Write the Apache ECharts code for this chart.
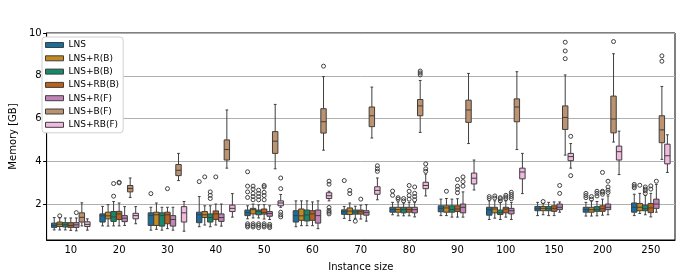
<!DOCTYPE html>
<html>
<head>
    <meta charset="utf-8">
    <script src="https://cdn.jsdelivr.net/npm/echarts@6/dist/echarts.min.js"></script>
</head>
<body style="margin:0">
<div id="main" style="width: 682px;height:277px;"></div>
<script type="text/javascript">
    // categories (instance size)
    var sizes = ['10', '20', '30', '40', '50', '60', '70', '80', '90', '100', '150', '200', '250'];
    var names = ['LNS', 'LNS+R(B)', 'LNS+B(B)', 'LNS+RB(B)', 'LNS+R(F)', 'LNS+B(F)', 'LNS+RB(F)'];
    var colors = ['#176d9c', '#c38820', '#158a6a', '#ba611b', '#c283b6', '#bd926e', '#f1b8e0'];

    // [min, q1, median, q3, max] per instance size, memory in GB
    var lns = [
        [0.79, 0.91, 1.00, 1.11, 1.37], [0.98, 1.16, 1.45, 1.54, 1.89], [0.78, 1.00, 1.46, 1.59, 1.85],
        [0.94, 1.13, 1.50, 1.62, 2.35], [1.31, 1.46, 1.60, 1.72, 1.92], [0.94, 1.16, 1.46, 1.69, 2.15],
        [1.33, 1.52, 1.64, 1.73, 1.89], [1.50, 1.62, 1.74, 1.85, 2.08], [1.46, 1.64, 1.80, 1.92, 2.23],
        [1.28, 1.48, 1.73, 1.85, 2.15], [1.46, 1.69, 1.78, 1.89, 2.08], [1.44, 1.62, 1.74, 1.85, 2.08],
        [1.46, 1.62, 1.85, 2.05, 2.46]
    ];
    var lnsR_B = [
        [0.79, 0.95, 1.06, 1.16, 1.36], [0.97, 1.31, 1.45, 1.62, 1.97], [0.82, 1.00, 1.50, 1.62, 2.05],
        [1.02, 1.37, 1.50, 1.65, 1.92], [1.35, 1.54, 1.74, 1.80, 2.00], [0.99, 1.24, 1.45, 1.77, 2.15],
        [1.23, 1.51, 1.67, 1.82, 2.05], [1.45, 1.62, 1.74, 1.85, 2.10], [1.46, 1.62, 1.82, 1.92, 2.26],
        [1.34, 1.59, 1.77, 1.85, 2.15], [1.50, 1.69, 1.80, 1.89, 2.03], [1.44, 1.62, 1.74, 1.85, 2.15],
        [1.56, 1.69, 1.85, 2.03, 2.50]
    ];
    var lnsB_B = [
        [0.79, 0.93, 1.03, 1.13, 1.35], [0.98, 1.19, 1.40, 1.65, 2.12], [0.78, 0.97, 1.46, 1.59, 1.85],
        [0.94, 1.16, 1.37, 1.54, 1.92], [1.35, 1.50, 1.66, 1.72, 1.96], [0.99, 1.21, 1.49, 1.72, 2.15],
        [1.33, 1.53, 1.63, 1.72, 1.90], [1.45, 1.59, 1.74, 1.85, 2.05], [1.39, 1.62, 1.75, 1.92, 2.23],
        [1.28, 1.51, 1.60, 1.72, 2.08], [1.46, 1.69, 1.78, 1.88, 2.08], [1.45, 1.66, 1.74, 1.88, 2.12],
        [1.50, 1.69, 1.78, 1.95, 2.40]
    ];
    var lnsRB_B = [
        [0.77, 0.91, 1.00, 1.13, 1.35], [0.98, 1.28, 1.54, 1.66, 2.05], [0.85, 1.08, 1.50, 1.62, 1.85],
        [1.02, 1.28, 1.54, 1.68, 2.00], [1.30, 1.53, 1.60, 1.77, 1.97], [0.99, 1.24, 1.54, 1.69, 2.10],
        [1.30, 1.53, 1.64, 1.72, 1.95], [1.45, 1.62, 1.74, 1.85, 2.08], [1.39, 1.65, 1.77, 1.92, 2.25],
        [1.39, 1.59, 1.77, 1.85, 2.15], [1.46, 1.66, 1.80, 1.92, 2.10], [1.48, 1.66, 1.78, 1.92, 2.23],
        [1.40, 1.60, 1.82, 2.03, 2.50]
    ];
    var lnsR_F = [
        [0.75, 0.91, 1.03, 1.13, 1.35], [1.00, 1.18, 1.34, 1.46, 1.88], [0.78, 0.97, 1.28, 1.46, 1.85],
        [0.97, 1.19, 1.37, 1.54, 2.00], [1.28, 1.43, 1.56, 1.65, 1.92], [0.85, 1.11, 1.46, 1.72, 2.15],
        [1.20, 1.48, 1.60, 1.69, 1.97], [1.40, 1.59, 1.74, 1.85, 2.08], [1.39, 1.59, 1.85, 2.00, 2.57],
        [1.28, 1.54, 1.69, 1.80, 2.08], [1.62, 1.74, 1.85, 2.00, 2.10], [1.50, 1.74, 1.85, 2.00, 2.38],
        [1.62, 1.80, 2.00, 2.23, 2.92]
    ];
    var lnsB_F = [
        [0.98, 1.16, 1.38, 1.59, 2.06], [2.31, 2.57, 2.73, 2.87, 3.22], [3.10, 3.33, 3.58, 3.85, 4.37],
        [3.68, 4.06, 4.55, 5.00, 6.40], [3.65, 4.37, 4.94, 5.39, 6.66], [4.52, 5.32, 5.85, 6.46, 7.96],
        [5.09, 5.62, 6.13, 6.54, 7.47], [5.35, 6.13, 6.59, 6.89, 7.78], [4.83, 5.82, 6.40, 6.86, 8.11],
        [4.55, 5.85, 6.54, 6.92, 8.19], [4.29, 5.49, 6.05, 6.59, 8.04], [4.90, 5.33, 5.98, 7.05, 9.03],
        [4.09, 4.87, 5.47, 6.13, 7.50]
    ];
    var lnsRB_F = [
        [0.78, 0.95, 1.05, 1.17, 1.31], [1.08, 1.31, 1.46, 1.57, 1.88], [0.73, 1.16, 1.59, 1.88, 2.12],
        [1.39, 1.65, 1.80, 1.95, 2.49], [1.85, 1.92, 2.05, 2.15, 2.45], [2.15, 2.26, 2.39, 2.53, 2.60],
        [2.20, 2.46, 2.64, 2.81, 3.22], [2.38, 2.72, 2.87, 3.02, 3.40], [2.66, 2.94, 3.21, 3.45, 4.06],
        [2.49, 3.18, 3.50, 3.68, 4.37], [3.68, 4.03, 4.22, 4.37, 4.83], [3.38, 4.06, 4.45, 4.71, 5.41],
        [3.48, 3.88, 4.26, 4.80, 5.24]
    ];

    // outliers per instance size
    var lnsOut = [[], [], [2.49], [3.05], [0.93, 1.0, 1.08, 2.31, 2.57, 2.84, 3.51], [], [3.1], [2.41, 2.61], [],
        [2.26, 2.35], [], [2.3, 2.4, 2.5], [2.76, 2.84, 2.92]];
    var lnsR_BOut = [[1.45], [], [], [3.27], [0.93, 1.0, 1.08, 2.2, 2.35, 2.5, 2.7, 2.84], [], [2.49, 2.64], [2.23, 2.3], [2.6],
        [2.28, 2.38], [2.12], [2.23, 2.35], [2.88]];
    var lnsB_BOut = [[], [2.37, 2.96], [], [2.26, 2.41, 2.57], [0.9, 1.0, 1.08, 2.2, 2.35, 2.5, 2.65], [], [1.2], [2.15, 2.26], [],
        [2.15, 2.25, 2.3], [], [2.38, 2.5, 2.6], [2.5, 2.62, 2.7, 2.8]];
    var lnsRB_BOut = [[], [2.99, 3.02], [2.72], [3.27], [0.93, 1.0, 1.08, 2.2, 2.4, 2.55, 2.8, 2.87], [], [2.23], [2.23, 2.4, 2.6, 2.87],
        [2.53, 2.69, 2.84, 3.15], [2.25, 2.33, 2.41], [], [2.46, 2.55, 2.6, 3.48], [2.7, 2.85]];
    var lnsR_FOut = [[1.6], [], [], [], [0.9, 0.97, 1.05], [], [], [2.2, 2.35, 2.5, 2.8], [2.84, 3.05, 3.27],
        [2.25, 2.35, 2.45, 2.55], [2.5, 2.87], [2.54, 2.65, 2.8, 3.07], [3.07]];
    var lnsB_FOut = [[], [], [], [], [], [8.45], [], [8.04, 8.13, 8.22], [], [], [8.8, 9.16, 9.57], [9.6], [8.68, 8.93]];
    var lnsRB_FOut = [[], [], [], [], [1.4, 1.5, 1.62, 2.72, 3.22], [1.54, 1.62, 1.7, 1.84, 2.93, 3.07], [3.53, 3.65, 3.79],
        [3.53, 3.65, 3.88], [], [], [3.33, 5.17], [], []];

    var allStats = [lns, lnsR_B, lnsB_B, lnsRB_B, lnsR_F, lnsB_F, lnsRB_F];
    var allOut = [lnsOut, lnsR_BOut, lnsB_BOut, lnsRB_BOut, lnsR_FOut, lnsB_FOut, lnsRB_FOut];

    var lineColor = '#3f3f3f';

    var makeRender = function (j) {
        return function (params, api) {
            var cat = api.value(0);
            var band = api.size([1, 0])[0];
            var slot = band * 0.8 / 7;
            var cx = api.coord([cat, 0])[0] + (j - 3) * slot;
            var hw = slot * 0.98 / 2;
            var cw = hw / 2;
            var y = function (v) { return api.coord([cat, v])[1]; };
            var yMin = y(api.value(1)), yQ1 = y(api.value(2)), yMed = y(api.value(3));
            var yQ3 = y(api.value(4)), yMax = y(api.value(5));
            var st = {stroke: lineColor, lineWidth: 1, fill: null};
            var children = [
                {type: 'line', shape: {x1: cx, y1: yMin, x2: cx, y2: yQ1}, style: st},
                {type: 'line', shape: {x1: cx, y1: yQ3, x2: cx, y2: yMax}, style: st},
                {type: 'line', shape: {x1: cx - cw, y1: yMin, x2: cx + cw, y2: yMin}, style: st},
                {type: 'line', shape: {x1: cx - cw, y1: yMax, x2: cx + cw, y2: yMax}, style: st},
                {type: 'rect', shape: {x: cx - hw, y: yQ3, width: hw * 2, height: yQ1 - yQ3},
                    style: {fill: colors[j], stroke: lineColor, lineWidth: 1}},
                {type: 'line', shape: {x1: cx - hw, y1: yMed, x2: cx + hw, y2: yMed}, style: st}
            ];
            var outs = allOut[j][params.dataIndex];
            for (var k = 0; k < outs.length; k++) {
                children.push({type: 'circle', shape: {cx: cx, cy: y(outs[k]), r: 2},
                    style: {fill: null, stroke: lineColor, lineWidth: 1}});
            }
            return {type: 'group', children: children};
        };
    };

    var series = [];
    for (var j = 0; j < names.length; j++) {
        var data = [];
        for (var i = 0; i < sizes.length; i++) {
            data.push([i].concat(allStats[j][i]));
        }
        series.push({
            name: names[j],
            type: 'custom',
            renderItem: makeRender(j),
            itemStyle: {color: colors[j]},
            encode: {x: 0, y: [1, 2, 3, 4, 5]},
            data: data
        });
    }

    var myChart = echarts.init(document.getElementById('main'));
    var font = 'DejaVu Sans';
    var option = {
        animation: false,
        grid: {left: 37, right: 7, top: 33, bottom: 32, show: true, borderColor: '#000', borderWidth: 1},
        legend: {
            orient: 'vertical',
            left: 42, top: 37,
            data: names,
            icon: 'rect',
            itemWidth: 18, itemHeight: 5, itemGap: 3.3,
            padding: [3, 4, 3, 3],
            backgroundColor: '#fff',
            borderColor: '#d0d0d0', borderWidth: 1, borderRadius: 3,
            itemStyle: {borderColor: lineColor, borderWidth: 1},
            textStyle: {fontFamily: font, fontSize: 9, color: '#000', lineHeight: 10}
        },
        xAxis: {
            type: 'category',
            data: sizes,
            name: 'Instance size',
            nameLocation: 'middle',
            nameGap: 22,
            nameTextStyle: {fontFamily: font, fontSize: 10, color: '#000'},
            axisLine: {lineStyle: {color: '#000'}},
            axisTick: {alignWithLabel: true, length: 3.5, lineStyle: {color: '#000'}},
            axisLabel: {fontFamily: font, fontSize: 10, color: '#000', margin: 5},
            splitLine: {show: false}
        },
        yAxis: {
            type: 'value',
            min: 0.32, max: 10, splitNumber: 5,
            name: 'Memory [GB]',
            nameLocation: 'middle',
            nameGap: 22,
            nameTextStyle: {fontFamily: font, fontSize: 10, color: '#000'},
            axisLine: {show: true, lineStyle: {color: '#000'}},
            axisTick: {show: true, length: 3.5, lineStyle: {color: '#000'}},
            axisLabel: {fontFamily: font, fontSize: 10, color: '#000', margin: 5, showMinLabel: false},
            splitLine: {lineStyle: {color: '#b0b0b0', width: 1}}
        },
        series: series
    };
    myChart.setOption(option);
</script>
</body>
</html>
